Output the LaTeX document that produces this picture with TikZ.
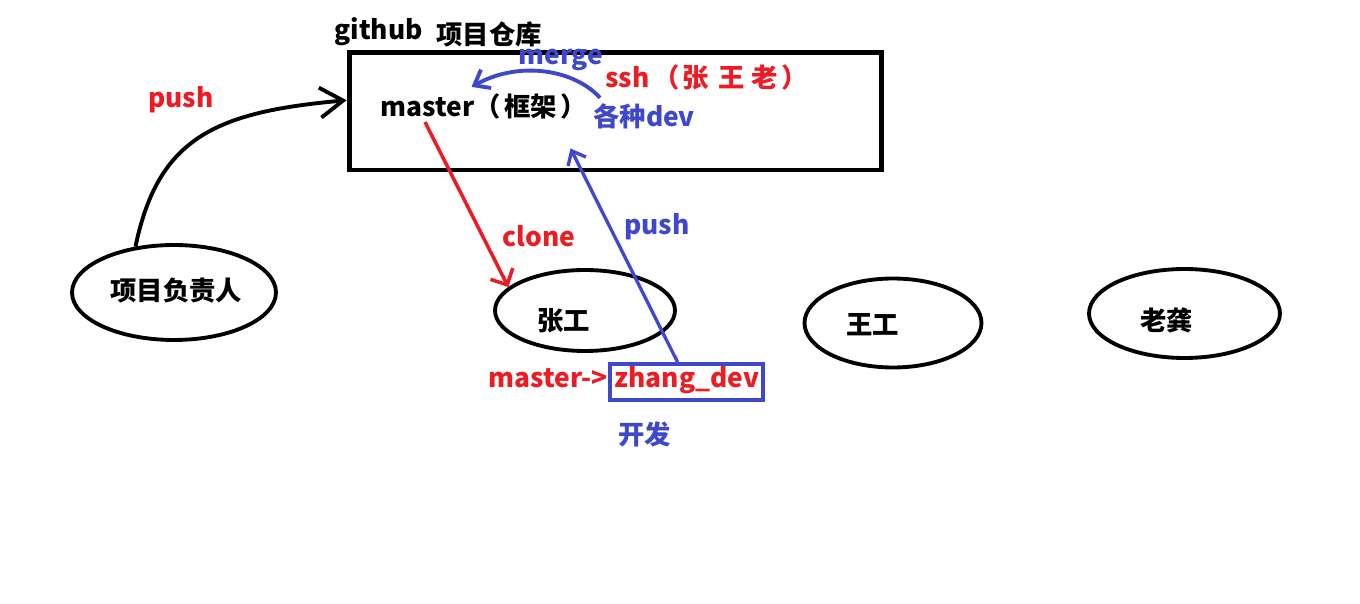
\documentclass[tikz,border=0pt]{standalone}
\usepackage{fontspec}
\setmainfont{Noto Sans CJK SC}
\usepackage{xcolor}
\usepackage{tikz}
\usetikzlibrary{arrows.meta}
\usetikzlibrary{positioning}
\usetikzlibrary{shapes.geometric}
\usetikzlibrary{calc}

\definecolor{malrot}{RGB}{237,28,36}
\definecolor{malblau}{RGB}{63,72,204}

\begin{document}
\begin{tikzpicture}
    [x=0.02cm, y=-0.02cm,
      % Stil für Texte
      txt/.style={inner sep=0pt, font=\fontsize{15}{18}\selectfont\bfseries},
      rtxt/.style={txt, text=malrot},
      btxt/.style={txt, text=malblau},
      % Stil für Personen
      pers/.style={ellipse, draw, line width=2.2pt},
      % Stil für das Repository
      repobox/.style={rectangle, draw, line width=2.8pt, minimum width=10.66cm, minimum height=2.35cm},
      devbox/.style={rectangle, draw=malblau, line width=2.3pt, inner sep=0pt, minimum width=3.06cm, minimum height=0.72cm},
      % Stil für Pfeile
      spfeil/.style={line width=2.2pt, -{Straight Barb[length=4.6mm, width=6mm]}},
      rpfeil/.style={malrot, line width=2pt, -{Straight Barb[length=2.5mm, width=5mm]}},
      bpfeil/.style={malblau, line width=1.9pt, -{Straight Barb[length=2.4mm, width=4mm]}},
      mpfeil/.style={malblau, line width=2.2pt, -{Straight Barb[length=2.7mm, width=4.2mm]}}]
    \useasboundingbox (0,0) rectangle (1360,604);

    % Knoten
    \node[repobox] (repo) at (615.5,111.25) {};
    \node[txt, anchor=base west] (github) at (334,40) {github};
    \node[txt, anchor=west] (repotitle) at (436,34) {项目仓库};
    \node[txt, anchor=base west] (master) at (380,117) {master（\kern2pt 框架\kern2pt）};
    \node[btxt, anchor=base west] (merge) at (518,65) {merge};
    \node[rtxt, anchor=base west] (ssh) at (605,88) {ssh\kern2pt（\kern2pt 张\kern2pt\ 王\ 老\kern2pt）};
    \node[btxt, anchor=base west] (devs) at (593,127) {各种dev};

    \node[pers, minimum width=4.08cm, minimum height=1.9cm] (lead) at (174,292.5) {};
    \node[txt, anchor=west] (leadtxt) at (110,291) {项目负责人};
    \node[pers, minimum width=3.6cm, minimum height=1.62cm] (zhang) at (585,310.5) {};
    \node[txt, anchor=west] (zhangtxt) at (537,321) {张工};
    \node[pers, minimum width=3.54cm, minimum height=1.78cm] (wang) at (893,323) {};
    \node[txt, anchor=west] (wangtxt) at (846,325) {王工};
    \node[pers, minimum width=3.82cm, minimum height=1.78cm] (gong) at (1184.5,313.5) {};
    \node[txt, anchor=west] (gongtxt) at (1140,320.5) {老龚};

    \node[rtxt, anchor=base west] (pushlead) at (148,108) {push};
    \node[rtxt, anchor=base west] (clone) at (502,247) {clone};
    \node[btxt, anchor=base west] (pushzhang) at (624,235) {push};

    \node[devbox] (zdev) at (686.5,382) {};
    \node[rtxt, anchor=base] (zdevtxt) at (687,388) {zhang\_dev};
    \node[rtxt, anchor=base west] (mtozd) at (488,388) {master->};
    \node[btxt, anchor=west] (kaifa) at (618,434) {开发};

    % Kanten
    \draw[spfeil] (lead.130) .. controls (158,138) and (215,112) .. ($(repo.west)+(0,-11)$);
    \draw[rpfeil] ($(master.south west)+(45,2)$) -- (zhang.163);
    \draw[bpfeil] ($(zdev.north)+(-9,0)$) -- ($(repo.south)+(-45,-24)$);
    \draw[mpfeil] ($(devs.north west)+(7,-6)$) .. controls (575,70) and (520,60) .. ($(master.north)+(-12,-7)$);

  \end{tikzpicture}
\end{document}
